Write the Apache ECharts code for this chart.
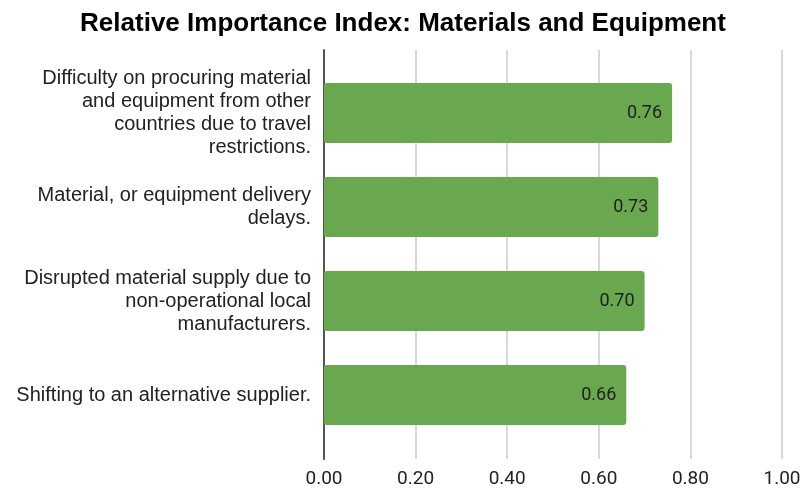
<!DOCTYPE html>
<html>
<head>
<meta charset="utf-8">
<script src="https://cdn.jsdelivr.net/npm/echarts@6/dist/echarts.min.js"></script>
<style>
  html, body { margin: 0; padding: 0; background: #fff; }
  #chart { width: 806px; height: 489px; }
</style>
</head>
<body>
<div id="chart"></div>
<script>
// Factors affecting materials and equipment, ranked by RII
const categories = [
  'Difficulty on procuring material\nand equipment from other\ncountries due to travel\nrestrictions.',
  'Material, or equipment delivery\ndelays.',
  'Disrupted material supply due to\nnon-operational local\nmanufacturers.',
  'Shifting to an alternative supplier.'
];
const riiValues = [0.76, 0.73, 0.70, 0.66];
const xTicks = [0, 0.2, 0.4, 0.6, 0.8, 1.0];

const chart = echarts.init(document.getElementById('chart'), null, { renderer: 'canvas' });

const plotLeft = 324;
const plotWidth = 458;
const sansFont = "'Liberation Sans', Arial, sans-serif";

chart.setOption({
  animation: false,
  backgroundColor: '#ffffff',
  title: {
    text: 'Relative Importance Index: Materials and Equipment',
    left: 'center',
    top: 6,
    textStyle: {
      fontFamily: sansFont,
      fontWeight: 'bold',
      fontSize: 26,
      color: '#000000'
    }
  },
  grid: [
    // frame: gridlines, zero line and tick labels
    { left: plotLeft, width: plotWidth, top: 50, height: 409 },
    // bars
    { left: plotLeft, width: plotWidth, top: 66, height: 376 }
  ],
  xAxis: [
    {
      gridIndex: 0,
      type: 'value',
      min: xTicks[0],
      max: xTicks[xTicks.length - 1],
      interval: 0.2,
      axisLine: { show: false },
      axisTick: { show: false },
      splitLine: { show: true, lineStyle: { color: '#cccccc', width: 1.5 } },
      axisLabel: {
        margin: 11,
        fontFamily: 'Roboto, sans-serif',
        fontSize: 19,
        color: '#222222',
        formatter: v => v.toFixed(2)
      }
    },
    {
      gridIndex: 1,
      type: 'value',
      min: xTicks[0],
      max: xTicks[xTicks.length - 1],
      show: false
    }
  ],
  yAxis: [
    {
      gridIndex: 0,
      type: 'value',
      min: 0,
      max: 1,
      axisLine: { show: true, lineStyle: { color: '#555555', width: 2 } },
      axisTick: { show: false },
      axisLabel: { show: false },
      splitLine: { show: false }
    },
    {
      gridIndex: 1,
      type: 'category',
      data: categories,
      inverse: true,
      axisLine: { show: false },
      axisTick: { show: false },
      splitLine: { show: false },
      axisLabel: {
        margin: 13,
        align: 'right',
        padding: [5, 0, 0, 0],
        fontFamily: sansFont,
        fontSize: 20,
        lineHeight: 23,
        color: '#222222'
      }
    }
  ],
  series: [
    {
      type: 'bar',
      xAxisIndex: 1,
      yAxisIndex: 1,
      data: riiValues,
      barWidth: 60,
      z: 5,
      itemStyle: { color: '#6aa84f', borderRadius: 3 },
      label: {
        show: true,
        position: 'insideRight',
        distance: 10,
        fontFamily: 'Roboto, sans-serif',
        fontSize: 18,
        color: '#1f1f1f',
        formatter: p => p.value.toFixed(2)
      }
    }
  ]
});
</script>
</body>
</html>
